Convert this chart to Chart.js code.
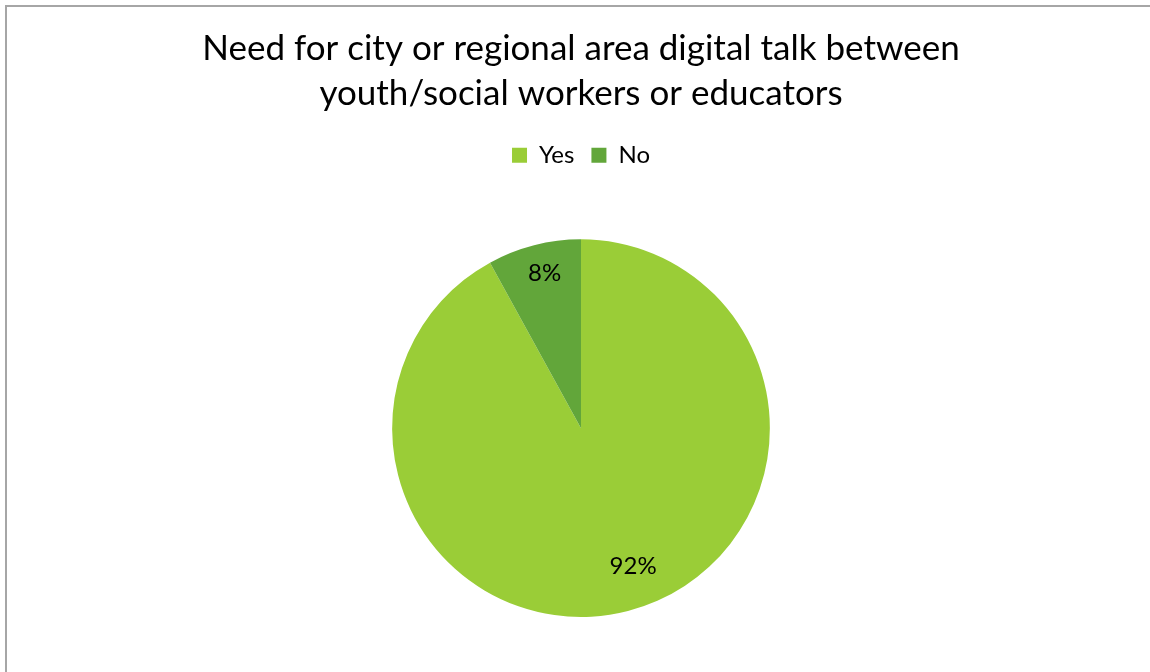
<!DOCTYPE html>
<html>
<head>
<meta charset="utf-8">
<script src="https://cdn.jsdelivr.net/npm/chart.js@4/dist/chart.umd.min.js"></script>
<style>
  html, body { margin: 0; padding: 0; background: #ffffff; overflow: hidden; }
  #wrap { position: relative; width: 1150px; height: 672px; }
  #frame { position: absolute; left: 5px; top: 5px; width: 1200px; height: 720px;
           border-left: 2px solid #a6a6a6; border-top: 2px solid #a6a6a6; pointer-events: none; }
  canvas { position: absolute; left: 0; top: 0; }
</style>
</head>
<body>
<div id="wrap">
  <canvas id="chart" width="1150" height="672"></canvas>
  <div id="frame"></div>
</div>
<script>
const categories = ['Yes', 'No'];
const shares = [92, 8];
const sliceColors = ['#9ACD37', '#62A63A'];
const titleLines = ['Need for city or regional area digital talk between', 'youth/social workers or educators'];

const FONT = "'Lato', 'Open Sans', sans-serif";

// Extra space between the legend and the pie
const legendGap = {
  id: 'legendGap',
  beforeInit(chart) {
    const fit = chart.legend.fit;
    chart.legend.fit = function () {
      fit.call(this);
      this.height += 62;
    };
  }
};

// Percentage labels drawn inside each slice
const sliceLabels = {
  id: 'sliceLabels',
  afterDatasetsDraw(chart, args, opts) {
    const ctx = chart.ctx;
    const meta = chart.getDatasetMeta(0);
    ctx.save();
    ctx.font = opts.font;
    ctx.fillStyle = '#000';
    ctx.textAlign = 'center';
    ctx.textBaseline = 'middle';
    meta.data.forEach((arc, i) => {
      const p = arc.getProps(['x', 'y', 'startAngle', 'endAngle', 'outerRadius'], true);
      const mid = (p.startAngle + p.endAngle) / 2 + (opts.angleShift[i] || 0);
      const r = p.outerRadius * opts.radiusFrac[i];
      ctx.fillText(shares[i] + '%', p.x + Math.cos(mid) * r, p.y + Math.sin(mid) * r);
    });
    ctx.restore();
  }
};

new Chart(document.getElementById('chart'), {
  type: 'pie',
  data: {
    labels: categories,
    datasets: [{
      data: shares,
      backgroundColor: sliceColors,
      borderWidth: 0
    }]
  },
  options: {
    responsive: false,
    animation: false,
    layout: { padding: { top: 26, bottom: 55, left: 12, right: 0 } },
    plugins: {
      title: {
        display: true,
        text: titleLines,
        color: '#000',
        font: { family: FONT, size: 35, weight: 'normal', lineHeight: 1.29 },
        padding: { top: 0, bottom: 10 }
      },
      legend: {
        display: true,
        position: 'top',
        labels: {
          color: '#000',
          font: { family: FONT, size: 24 },
          boxWidth: 15,
          boxHeight: 15,
          padding: 17
        }
      },
      tooltip: { enabled: false },
      sliceLabels: {
        font: "24px " + FONT,
        radiusFrac: [0.78, 0.84],
        angleShift: [-0.11, 0.02]
      }
    }
  },
  plugins: [legendGap, sliceLabels]
});
</script>
</body>
</html>
